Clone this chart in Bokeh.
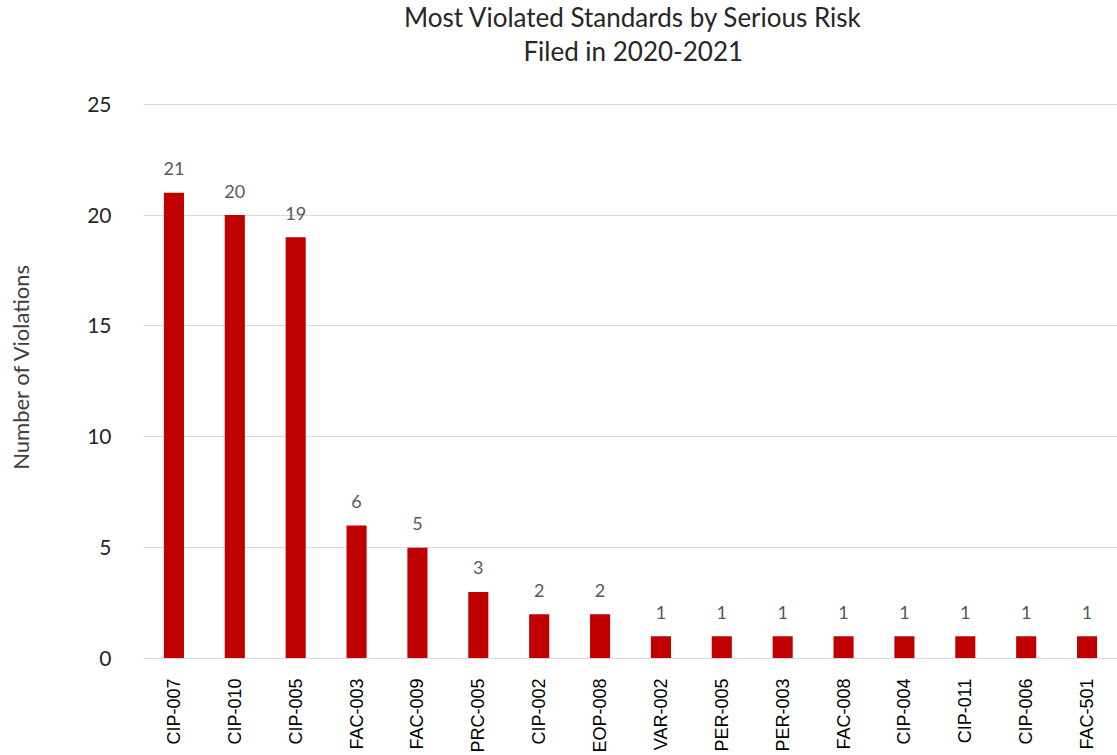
from bokeh.plotting import figure
from bokeh.models import ColumnDataSource, FixedTicker, Range1d
from bokeh.layouts import row, column
from bokeh.embed import file_html
from bokeh.resources import INLINE
from bokeh.core.properties import value
import math

standards = ["CIP-007", "CIP-010", "CIP-005", "FAC-003", "FAC-009", "PRC-005",
             "CIP-002", "EOP-008", "VAR-002", "PER-005", "PER-003", "FAC-008",
             "CIP-004", "CIP-011", "CIP-006", "FAC-501"]
violations = [21, 20, 19, 6, 5, 3, 2, 2, 1, 1, 1, 1, 1, 1, 1, 1]
y_ticks = [0, 5, 10, 15, 20, 25]
title_lines = ["Most Violated Standards by Serious Risk", "Filed in 2020-2021"]
y_title = "Number of Violations"

W, H = 1117, 755
LEFT_W = 40
TITLE_H = 88


def blank_fig(w, h, xr, yr):
    f = figure(width=w, height=h, x_range=xr, y_range=yr,
               output_backend="svg", toolbar_location=None,
               x_axis_type=None, y_axis_type=None,
               min_border=0)
    f.outline_line_color = None
    f.xgrid.visible = False
    f.ygrid.visible = False
    return f


# left strip: y-axis title
left = blank_fig(LEFT_W, H, Range1d(0, LEFT_W), Range1d(H, 0))
left.text(x=[LEFT_W / 2], y=[366], text=[y_title], angle=math.pi / 2,
          text_align="center", text_baseline="middle",
          text_font=value("Lato"), text_font_size="22px", text_color="#404040")

# top strip: chart title
top = blank_fig(W - LEFT_W, TITLE_H, Range1d(LEFT_W, W), Range1d(TITLE_H, 0))
top.text(x=[581.5, 581.5], y=[16, 50], text=title_lines,
         text_align="center", text_baseline="middle",
         text_font=value("Lato"), text_font_size="26px", text_color="#262626")

# main chart
src = ColumnDataSource(dict(x=standards, y=violations,
                            lbl=[str(v) for v in violations]))

p = figure(width=W - LEFT_W, height=H - TITLE_H, x_range=standards,
           y_range=(0, 25.03), output_backend="svg", toolbar_location=None,
           min_border_left=143 - LEFT_W, min_border_right=0,
           min_border_top=103 - TITLE_H, min_border_bottom=97)

p.vbar(x="x", top="y", width=0.33, source=src, color="#C00000", line_color=None)
p.text(x="x", y="y", text="lbl", source=src, y_offset=-24,
       text_align="center", text_baseline="alphabetic",
       text_font=value("Lato"), text_font_size="18px", text_color="#595959")

p.outline_line_color = None
p.xgrid.grid_line_color = None
p.ygrid.grid_line_color = "#d9d9d9"
p.ygrid.grid_line_width = 1
p.yaxis.ticker = FixedTicker(ticks=y_ticks)
p.yaxis.axis_line_color = None
p.yaxis.major_tick_line_color = None
p.yaxis.minor_tick_line_color = None
p.yaxis.major_label_text_font = "Lato"
p.yaxis.major_label_text_font_size = "21px"
p.yaxis.major_label_text_color = "#262626"
p.yaxis.major_label_standoff = 26

p.xaxis.axis_line_color = "#d9d9d9"
p.xaxis.major_tick_line_color = None
p.xaxis.minor_tick_line_color = None
p.xaxis.major_label_orientation = math.pi / 2
p.xaxis.major_label_text_font = "Liberation Sans"
p.xaxis.major_label_text_font_size = "18px"
p.xaxis.major_label_text_color = "#000000"
p.xaxis.major_label_standoff = 14
p.x_range.range_padding = 0

layout = row(left, column(top, p, spacing=0), spacing=0)
open("out.html", "w").write(file_html(layout, INLINE))
